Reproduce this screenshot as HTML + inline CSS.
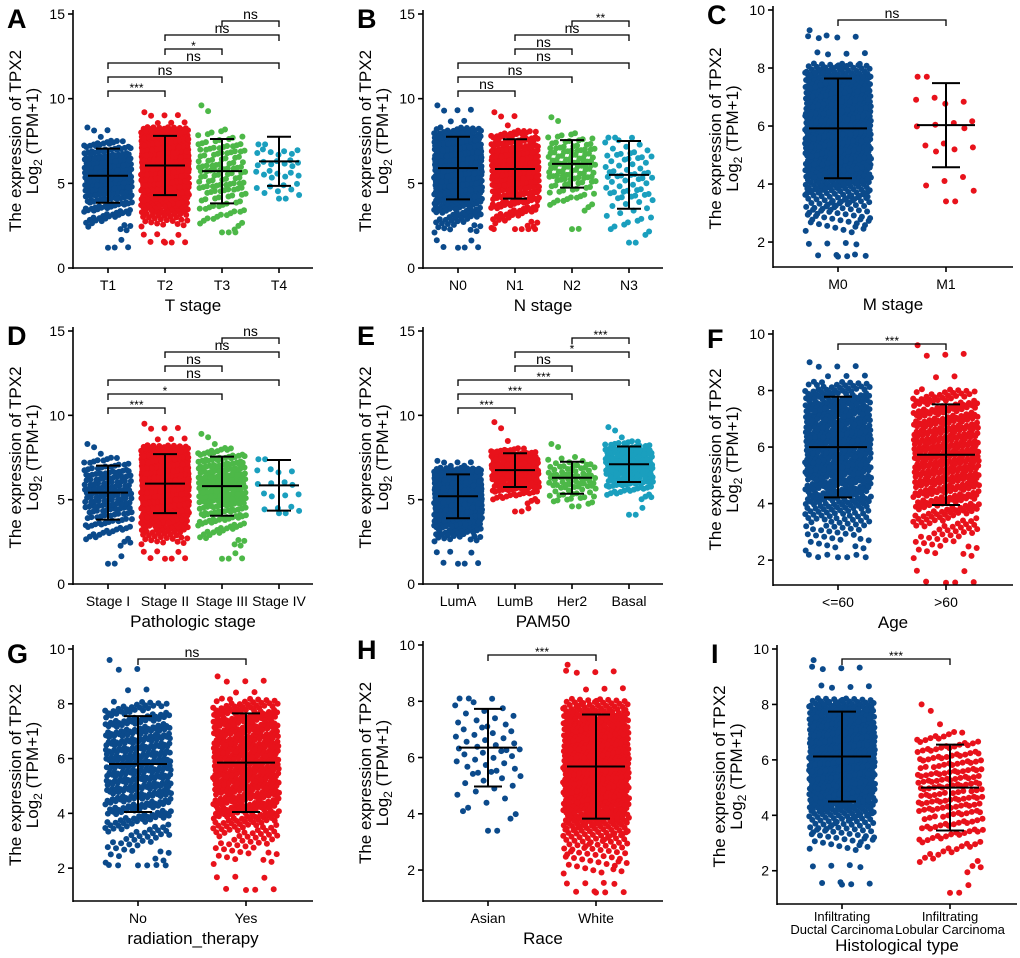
<!DOCTYPE html>
<html><head><meta charset="utf-8">
<style>
html,body{margin:0;padding:0;background:#fff;}
svg{display:block;font-family:"Liberation Sans",Arial,sans-serif;}
</style></head>
<body>
<svg id="fig" width="1020" height="958" viewBox="0 0 1020 958" xmlns="http://www.w3.org/2000/svg"></svg>
<script>
// ---- data arrays ----
const panelLetters = ["A","B","C","D","E","F","G","H","I"];
const panelTitles = ["T stage","N stage","M stage","Pathologic stage","PAM50","Age","radiation_therapy","Race","Histological type"];
const groupLabels = [
  ["T1","T2","T3","T4"],
  ["N0","N1","N2","N3"],
  ["M0","M1"],
  ["Stage I","Stage II","Stage III","Stage IV"],
  ["LumA","LumB","Her2","Basal"],
  ["<=60",">60"],
  ["No","Yes"],
  ["Asian","White"],
  ["Infiltrating\nDuctal Carcinoma","Infiltrating\nLobular Carcinoma"]
];
const groupN = [[280,640,130,35],[510,360,120,75],[900,22],[180,620,250,20],[560,200,80,190],[600,480],[430,560],[60,750],[780,200]];
const groupMean = [[5.45,6.05,5.72,6.3],[5.9,5.85,6.15,5.5],[5.92,6.03],[5.42,5.95,5.8,5.85],[5.2,6.75,6.3,7.1],[6.0,5.73],[5.8,5.85],[6.35,5.68],[6.12,5.0]];
const groupSD = [[1.6,1.75,1.9,1.45],[1.85,1.75,1.4,2.0],[1.72,1.45],[1.6,1.75,1.75,1.5],[1.3,1.0,0.95,1.05],[1.78,1.78],[1.75,1.8],[1.38,1.85],[1.62,1.55]];
const groupMin = [[1.2,1.5,2.1,4.1],[1.2,2.3,2.3,1.5],[1.5,3.4],[1.2,1.5,1.5,4.2],[1.2,4.3,4.6,4.1],[2.1,1.2],[2.1,1.2],[3.4,1.2],[1.5,1.2]];
const groupMax = [[8.3,9.2,9.6,7.3],[9.6,9.2,8.9,7.7],[9.3,7.7],[8.3,9.5,8.9,7.4],[7.3,9.6,8.3,9.3],[9.0,9.6],[9.6,9.0],[8.1,9.3],[9.6,8.0]];
const yTickLabels = [[0,5,10,15],[0,5,10,15],[2,4,6,8,10],[0,5,10,15],[0,5,10,15],[2,4,6,8,10],[2,4,6,8,10],[2,4,6,8,10],[2,4,6,8,10]];
const sigPairs = [
  [[2,3,"ns"],[1,3,"ns"],[1,2,"*"],[0,3,"ns"],[0,2,"ns"],[0,1,"***"]],
  [[2,3,"**"],[1,3,"ns"],[1,2,"ns"],[0,3,"ns"],[0,2,"ns"],[0,1,"ns"]],
  [[0,1,"ns"]],
  [[2,3,"ns"],[1,3,"ns"],[1,2,"ns"],[0,3,"ns"],[0,2,"*"],[0,1,"***"]],
  [[2,3,"***"],[1,3,"*"],[1,2,"ns"],[0,3,"***"],[0,2,"***"],[0,1,"***"]],
  [[0,1,"***"]],
  [[0,1,"ns"]],
  [[0,1,"***"]],
  [[0,1,"***"]]
];
// ---- layout (not data) ----
const colors4 = ["#0b4a8b","#e8121b","#4db848","#1a9fbe"];
const colors2 = ["#0b4a8b","#e8121b"];
const layout = [
  {ax:73, top:14, topV:15, bot:268, botV:0},
  {ax:423,top:14, topV:15, bot:268, botV:0},
  {ax:773,top:10, topV:10, bot:267, botV:1.14},
  {ax:73, top:331,topV:15, bot:584, botV:0},
  {ax:423,top:331,topV:15, bot:584, botV:0},
  {ax:773,top:334,topV:10, bot:585, botV:1.12},
  {ax:73, top:649,topV:10, bot:901, botV:0.8},
  {ax:423,top:645,topV:10, bot:901, botV:0.9},
  {ax:777,top:649,topV:10, bot:904, botV:0.8}
];
const NS = "http://www.w3.org/2000/svg";
const svg = document.getElementById("fig");
function mk(tag, attrs, parent){
  const e = document.createElementNS(NS, tag);
  for (const k in attrs) e.setAttribute(k, attrs[k]);
  (parent||svg).appendChild(e);
  return e;
}
function probit(p){
  const a=[-39.6968302866538,220.946098424521,-275.928510446969,138.357751867269,-30.6647980661472,2.50662827745924];
  const b=[-54.4760987982241,161.585836858041,-155.698979859887,66.8013118877197,-13.2806815528857];
  const c=[-0.00778489400243029,-0.322396458041136,-2.40075827716184,-2.54973253934373,4.37466414146497,2.93816398269878];
  const d=[0.00778469570904146,0.32246712907004,2.445134137143,3.75440866190742];
  const pl=0.02425;let q,r;
  if(p<pl){q=Math.sqrt(-2*Math.log(p));return (((((c[0]*q+c[1])*q+c[2])*q+c[3])*q+c[4])*q+c[5])/((((d[0]*q+d[1])*q+d[2])*q+d[3])*q+1);}
  if(p>1-pl){q=Math.sqrt(-2*Math.log(1-p));return -(((((c[0]*q+c[1])*q+c[2])*q+c[3])*q+c[4])*q+c[5])/((((d[0]*q+d[1])*q+d[2])*q+d[3])*q+1);}
  q=p-0.5;r=q*q;return (((((a[0]*r+a[1])*r+a[2])*r+a[3])*r+a[4])*r+a[5])*q/(((((b[0]*r+b[1])*r+b[2])*r+b[3])*r+b[4])*r+1);
}
function Phi(z){
  const t=1/(1+0.3275911*Math.abs(z)/Math.SQRT2);
  const y=1-(((((1.061405429*t-1.453152027)*t)+1.421413741)*t-0.284496736)*t+0.254829592)*t*Math.exp(-z*z/2);
  return z>=0?0.5*(1+y):0.5*(1-y);
}
function frac(x){return x-Math.floor(x);}

for (let p=0;p<9;p++){
  const L = layout[p];
  const labels = groupLabels[p];
  const k = labels.length;
  const g = mk("g",{});
  
  
  const yScale = v => L.bot - (v - L.botV) * (L.bot - L.top) / (L.topV - L.botV);
  const spacing = k===4 ? 57 : 108;
  const first = k===4 ? 35 : 65;
  const xScale = i => L.ax + first + i*spacing;
  const axEnd = L.ax+240;
  const jw = k===4 ? 24 : 33;
  const cols = k===4 ? colors4 : colors2;
  const lt = mk("text",{x:L.ax-66,y:L.top+14,"font-size":27,"font-weight":"bold",fill:"#000"},g);
  lt.textContent = panelLetters[p];
  
  
  for (let i=0;i<k;i++){
    const n=groupN[p][i], m=groupMean[p][i], s=groupSD[p][i], lo=groupMin[p][i], hi=groupMax[p][i];
    const pg = mk("g",{fill:cols[i]},g);
    
    
    // bulk bounds (tails become sparse outliers)
    const bLo = Math.max(lo, m-2.1*s), bHi = Math.min(hi, m+1.3*s);
    const pLo = Phi((bLo-m)/s), pHi = Phi((bHi-m)/s);
    const nOut = Math.max(2, Math.round(n*0.02));
    for (let j=0;j<n;j++){
      let v;
      const u = frac(0.5+j*0.7548776662);
      if (j===0) v=lo; else if (j===1) v=hi;
      else if (j<nOut+2) {
        // sparse outliers between bulk edge and extremes
        if (j%2===0) v = lo + u*(bLo-lo); else v = bHi + u*(hi-bHi);
      } else {
        const pp = Math.min(0.9999,Math.max(0.0001,pLo + u*(pHi-pLo)));
        v = m + s*probit(pp);
      }
      const jx = (frac(0.5+j*0.5698402910)*2-1)*jw;
      mk("circle",{cx:(xScale(i)+jx).toFixed(1),cy:yScale(v).toFixed(1),r:3},pg);
    }
    const eg = mk("g",{stroke:"#000","stroke-width":2,fill:"none"},g);
    
    
    const cx = xScale(i), cw = k===4?12:14, mw = k===4?20:29;
    mk("line",{x1:cx,x2:cx,y1:yScale(m+s),y2:yScale(m-s)},eg);
    mk("line",{x1:cx-cw,x2:cx+cw,y1:yScale(m+s),y2:yScale(m+s)},eg);
    mk("line",{x1:cx-cw,x2:cx+cw,y1:yScale(m-s),y2:yScale(m-s)},eg);
    mk("line",{x1:cx-mw,x2:cx+mw,y1:yScale(m),y2:yScale(m)},eg);
  }
  const axg = mk("g",{stroke:"#000","stroke-width":1.6,fill:"none"},g);
  
  
  mk("line",{x1:L.ax,x2:L.ax,y1:L.top-4,y2:L.bot+1},axg);
  mk("line",{x1:L.ax,x2:axEnd,y1:L.bot,y2:L.bot},axg);
  yTickLabels[p].forEach(t=>{
    const y=yScale(t);
    mk("line",{x1:L.ax-5,x2:L.ax,y1:y,y2:y},axg);
    const tt = mk("text",{x:L.ax-8,y:y+5,"font-size":14,"text-anchor":"end",fill:"#000",stroke:"none"},g);
    tt.textContent = t;
    
    
  });
  for (let i=0;i<k;i++){
    const x=xScale(i);
    mk("line",{x1:x,x2:x,y1:L.bot,y2:L.bot+5},axg);
    const parts = labels[i].split("\n");
    parts.forEach((ln,li)=>{
      const tt = mk("text",{x:x,y:L.bot+(parts.length>1?17:22)+li*13,"font-size":parts.length>1?13:14,"text-anchor":"middle",fill:"#000"},g);
      tt.textContent = ln;
      
      
    });
  }
  const xt = mk("text",{x:(L.ax+axEnd)/2,y:L.bot+(labels[0].includes("\n")?47:43),"font-size":17,"text-anchor":"middle",fill:"#000"},g);
  xt.textContent = panelTitles[p];
  
  
  const cy = (L.top+L.bot)/2;
  const yt = mk("text",{transform:`translate(${L.ax-52},${cy}) rotate(-90)`,"font-size":17,"text-anchor":"middle",fill:"#000"},g);
  yt.textContent = "The expression of TPX2";
  
  
  const yt2 = mk("text",{transform:`translate(${L.ax-35},${cy}) rotate(-90)`,"font-size":17,"text-anchor":"middle",fill:"#000"},g);
  yt2.innerHTML = 'Log<tspan font-size="12" dy="4">2</tspan><tspan dy="-4"> (TPM+1)</tspan>';
  
  
  const pairs = sigPairs[p];
  pairs.forEach((pr,bi)=>{
    const by = k===4 ? L.top+7+bi*14 : L.top+10;
    const x1=xScale(pr[0]), x2=xScale(pr[1]);
    const bg = mk("g",{},g);
    
    
    mk("polyline",{points:`${x1},${by+6} ${x1},${by} ${x2},${by} ${x2},${by+6}`,fill:"none",stroke:"#000","stroke-width":1.3},bg);
    const isNs = pr[2]==="ns";
    const st = mk("text",{x:(x1+x2)/2,y:isNs?by-2:by+1,"font-size":isNs?14:12,"text-anchor":"middle",fill:"#000"},bg);
    st.textContent = pr[2];
  });
}
</script>
</body></html>
